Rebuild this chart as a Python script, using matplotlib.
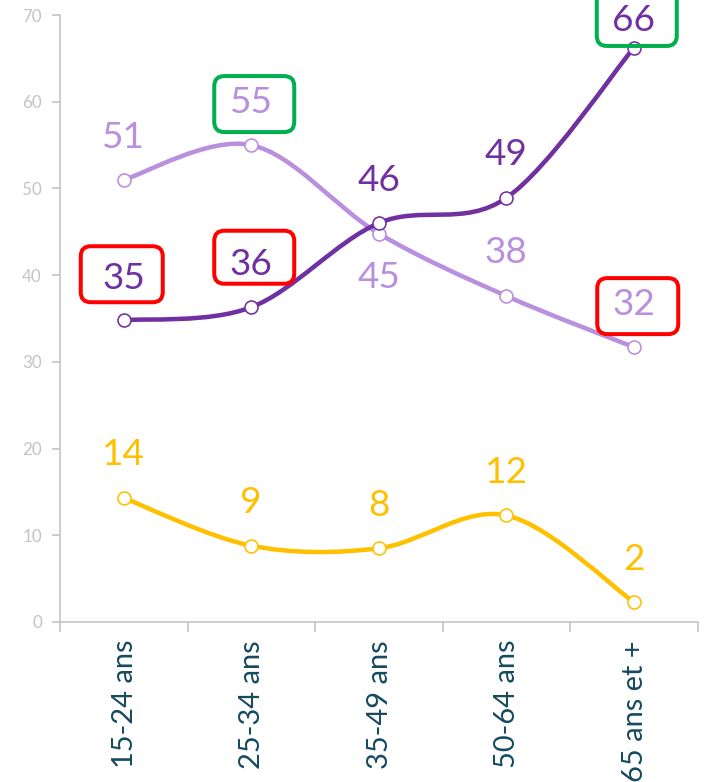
import matplotlib
matplotlib.use("Agg")
import matplotlib.pyplot as plt
from matplotlib.path import Path
from matplotlib.patches import PathPatch, FancyBboxPatch
import matplotlib.transforms as mtransforms
import numpy as np

categories = ["15-24 ans", "25-34 ans", "35-49 ans", "50-64 ans", "65 ans et +"]
light_vals = [51.0, 55.0, 44.8, 37.6, 31.7]
dark_vals = [34.8, 36.3, 46.0, 48.9, 66.2]
yellow_vals = [14.3, 8.8, 8.5, 12.3, 2.3]
light_labels = ["51", "55", "45", "38", "32"]
dark_labels = ["35", "36", "46", "49", "66"]
yellow_labels = ["14", "9", "8", "12", "2"]

LIGHT = "#B98FDE"
DARK = "#7030A0"
YELLOW = "#FFC000"
RED = "#FF0000"
GREEN = "#00B050"

plt.rcParams['font.family'] = ['Lato', 'DejaVu Sans']

W, H = 706, 782
fig = plt.figure(figsize=(W / 72, H / 72), dpi=72)
ax = fig.add_axes([60 / W, (H - 622) / H, 637.5 / W, 607 / H])
ax.set_xlim(-0.5, 4.5)
ax.set_ylim(0, 70)

def smooth_path(xs, ys):
    pts = np.column_stack([xs, ys]).astype(float)
    n = len(pts)
    verts = [pts[0]]
    codes = [Path.MOVETO]
    for i in range(n - 1):
        p0 = pts[i - 1] if i > 0 else pts[i]
        p1 = pts[i]
        p2 = pts[i + 1]
        p3 = pts[i + 2] if i + 2 < n else pts[i + 1]
        c1 = p1 + (p2 - p0) / 6.0
        c2 = p2 - (p3 - p1) / 6.0
        verts += [c1, c2, p2]
        codes += [Path.CURVE4] * 3
    return Path(verts, codes)

x = np.arange(len(categories))
for vals, col in [(yellow_vals, YELLOW), (light_vals, LIGHT), (dark_vals, DARK)]:
    patch = PathPatch(smooth_path(x, vals), facecolor='none', edgecolor=col,
                      lw=4.5, capstyle='round', joinstyle='round', zorder=3)
    ax.add_patch(patch)
    ax.plot(x, vals, linestyle='none', marker='o', markersize=13,
            markerfacecolor='white', markeredgecolor=col, markeredgewidth=1.6,
            zorder=4, clip_on=False)

def label(xi, yi, txt, col, dy, box=None):
    ax.annotate(txt, (xi, yi), xytext=(0, dy), textcoords='offset points',
                ha='center', va='center', fontsize=37, color=col, zorder=6,
                annotation_clip=False)
    if box is not None:
        ecol, bdx, bdy, bw, bh = box
        trans = fig.dpi_scale_trans + mtransforms.ScaledTranslation(xi, yi, ax.transData)
        p = FancyBboxPatch(((bdx - bw / 2) / 72, (bdy - bh / 2) / 72), bw / 72, bh / 72,
                           boxstyle="round,pad=0,rounding_size=0.14",
                           transform=trans, facecolor='none', edgecolor=ecol,
                           lw=4, zorder=5, clip_on=False)
        fig.add_artist(p)

light_dy = [42, 43, -44, 43, 43]
dark_dy = [42, 43, 43, 43, 27]
yellow_dy = [43, 43, 43, 43, 43]
# (colour, dx, dy, width, height) in pixels relative to the marker
light_box = [None, (GREEN, 3, 41, 80, 56), None, None, (RED, 4, 41, 81, 56)]
dark_box = [(RED, -2, 46, 82, 56), (RED, 3, 50, 80, 53), None, None, (GREEN, 3, 30, 80, 56)]

for i in range(5):
    label(x[i], light_vals[i], light_labels[i], LIGHT, light_dy[i], light_box[i])
    label(x[i], dark_vals[i], dark_labels[i], DARK, dark_dy[i], dark_box[i])
    label(x[i], yellow_vals[i], yellow_labels[i], YELLOW, yellow_dy[i])

for s in ['top', 'right']:
    ax.spines[s].set_visible(False)
for s in ['left', 'bottom']:
    ax.spines[s].set_color('#BFBFBF')
    ax.spines[s].set_linewidth(1.5)

ax.set_yticks(np.arange(0, 71, 10))
ax.tick_params(axis='y', length=8, width=1.5, color='#BFBFBF', labelcolor='#C4C4C4',
               labelsize=17, pad=10)
ax.set_xticks(np.arange(-0.5, 4.6, 1.0))
ax.set_xticklabels([])
ax.tick_params(axis='x', length=10, width=1.5, color='#BFBFBF')
for i, c in enumerate(categories):
    ax.annotate(c, (i, 0), xytext=(1, -18), textcoords='offset points',
                rotation=90, ha='center', va='top', fontsize=29, color='#154A5F',
                annotation_clip=False)

fig.savefig("out.png", dpi=72)
